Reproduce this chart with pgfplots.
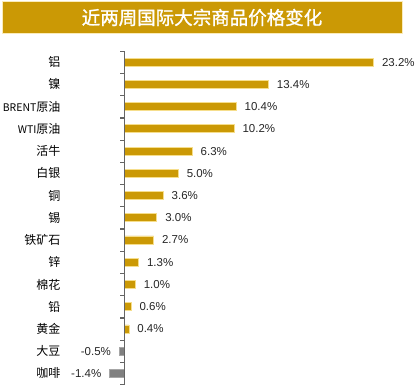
\documentclass[border=0pt]{standalone}
\usepackage{pgfplots}
\pgfplotsset{compat=1.18}
\usepackage{fontspec}
\setmainfont{Liberation Sans}
\newfontfamily\cjk{Noto Sans CJK SC}
\newfontfamily\cjkb{Noto Sans CJK SC}[FakeBold=1.2]
\definecolor{gold}{RGB}{203,153,5}
\definecolor{goldedge}{RGB}{246,222,140}
\definecolor{negbar}{RGB}{128,128,128}
\definecolor{axisgray}{RGB}{100,100,100}
\begin{document}
\begin{tikzpicture}[x=1bp,y=1bp]
\path[use as bounding box] (0,0) rectangle (416,-385);
\fill[gold] (2,-1) rectangle (402,-33);
\draw[goldedge!60!white, line width=0.8bp] (2,-1) rectangle (402,-33);
\node[text=white, font=\cjkb\fontsize{18.5bp}{20bp}\selectfont] at (202,-17.5) {近两周国际大宗商品价格变化};
\begin{axis}[
  scale only axis,
  width=295.1bp, height=333.5bp,
  at={(108.6bp,-384.5bp)}, anchor=south west,
  xmin=-1.5, xmax=26,
  ymin=-0.5, ymax=14.5,
  y dir=reverse,
  axis line style={draw=none},
  xtick=\empty,
  ytick={0,...,14},
  yticklabels={铝,镍,{{\fontsize{10.5bp}{12bp}\selectfont BRENT}原油},{{\fontsize{10.5bp}{12bp}\selectfont WTI}原油},活牛,白银,铜,锡,铁矿石,锌,棉花,铅,黄金,大豆,咖啡},
  major tick length=0,
  yticklabel style={font=\cjk\fontsize{12bp}{14bp}\selectfont, xshift=-48bp, anchor=east, inner sep=0pt},
  /pgf/number format/assume math mode=true,
  every node near coord/.append style={font=\fontsize{11.5bp}{13bp}\selectfont, text=black!85, inner xsep=8bp, inner ysep=1bp},
  clip=false,
]
\addplot[xbar, bar width=8bp, bar shift=0pt, fill=gold, draw=goldedge, line width=0.8bp,
  nodes near coords={\pgfmathprintnumber[fixed,fixed zerofill,precision=1,assume math mode=true]{\pgfplotspointmeta}\%}] coordinates {
(23.2,0) (13.4,1) (10.4,2) (10.2,3) (6.3,4) (5.0,5) (3.6,6) (3.0,7) (2.7,8) (1.3,9) (1.0,10) (0.6,11) (0.4,12)};
\addplot[xbar, bar width=8bp, bar shift=0pt, fill=negbar, draw=negbar!70!white, line width=0.8bp,
  nodes near coords={\pgfmathprintnumber[fixed,fixed zerofill,precision=1,assume math mode=true]{\pgfplotspointmeta}\%}] coordinates {(-0.5,13) (-1.4,14)};
\addplot[axisgray, line width=1.2bp, no marks, sharp plot, forget plot] coordinates {(0,-0.5) (0,14.5)};
\end{axis}
\foreach \k in {0,...,15} {\draw[axisgray, line width=1.2bp] (124.6,{-51.2-22.233*\k}) -- ++(-5,0);}
\end{tikzpicture}
\end{document}
